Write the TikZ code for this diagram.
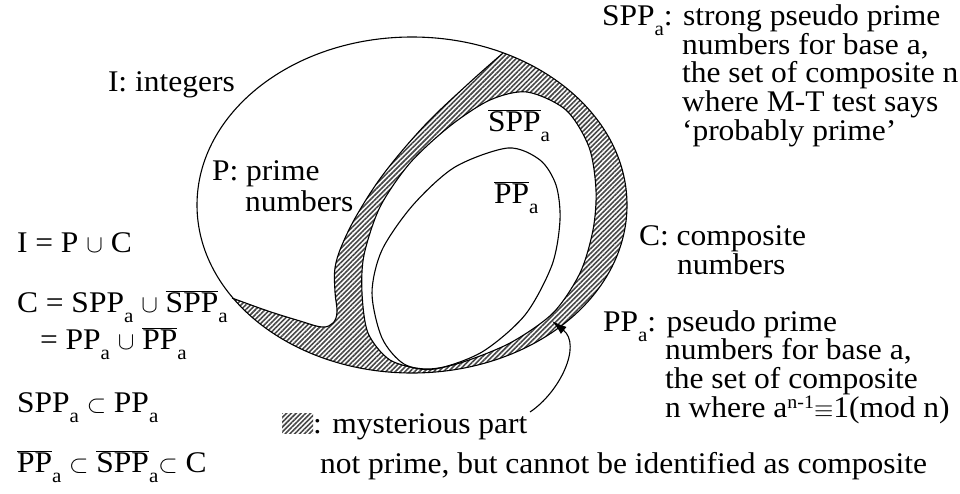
\documentclass[tikz,border=0pt]{standalone}
\usepackage{fontspec}
\setmainfont{Liberation Serif}[FakeStretch=1.05]
\usetikzlibrary{arrows.meta,patterns.meta}
\newcommand\sA{\raisebox{-10pt}{\fontsize{20}{20}\selectfont a}}
\newcommand\supn{\raisebox{9pt}{\fontsize{19}{19}\selectfont n-1}}
\newcommand\ob[1]{$\overline{\hbox{#1}}$}
\begin{document}
\begin{tikzpicture}[x=1pt,y=-1pt]
\tikzset{
  txt/.style={anchor=base west, inner sep=0pt, outer sep=0pt, font=\fontsize{30}{30}\selectfont},
  edge/.style={line width=1.1pt, black},
  hatch/.style={pattern={Lines[angle=45,distance=3.4pt,line width=1.6pt]}, pattern color=black!72},
}
\useasboundingbox (0,0) rectangle (960,493);
\fill[white] (0,0) rectangle (960,493);

% mysterious band
\path[hatch, even odd rule]
  plot[domain=-65:146.4, samples=90, variable=\t] ({412+215*cos(\t)},{205+168*sin(\t)})
  -- plot[smooth, tension=0.6] coordinates {(232,298) (268,311) (300,321) (322,327) (333,323) (337,312) (335,292) (335,268) (342,245) (358,213) (385,172) (425,125) (468,84) (503,53)}
  -- cycle
  plot[smooth cycle] coordinates {(527,92) (566,110) (589,147) (596,190) (593,230) (580,273) (553,313) (510,343) (460,363) (425,369) (390,360) (368,333) (362,293) (364,255) (380,207) (410,163) (450,126) (490,100)};

% outlines
\draw[edge] (412,205) ellipse [x radius=215, y radius=168];
\draw[edge] plot[smooth, tension=0.6] coordinates {(232,298) (268,311) (300,321) (322,327) (333,323) (337,312) (335,292) (335,268) (342,245) (358,213) (385,172) (425,125) (468,84) (503,53)};
\draw[edge] plot[smooth cycle] coordinates {(527,92) (566,110) (589,147) (596,190) (593,230) (580,273) (553,313) (510,343) (460,363) (425,369) (390,360) (368,333) (362,293) (364,255) (380,207) (410,163) (450,126) (490,100)};
\draw[edge] plot[smooth cycle] coordinates {(508,148) (540,160) (556,185) (560,220) (552,265) (525,315) (482,352) (435,369) (404,364) (382,338) (372,293) (382,250) (413,205) (455,167)};

% labels in diagram
\node[txt] (iint) at (108,91) {I: integers};
\node[txt] (pp1) at (212,180) {P: prime};
\node[txt] (pp2) at (245,211) {numbers};
\node[txt] (sppbar) at (488,131) {\ob{SPP}\sA};
\node[txt] (ppbar) at (494,203) {\ob{PP}\sA};

% right texts
\node[txt] (s1) at (602,25) {SPP\sA: strong pseudo prime};
\node[txt] (s2) at (682,54) {numbers for base a,};
\node[txt] (s3) at (682,82) {the set of composite n};
\node[txt] (s4) at (682,111) {where M-T test says};
\node[txt] (s5) at (682,140) {`probably prime'};
\node[txt] (c1) at (639,245) {C: composite};
\node[txt] (c2) at (677,274) {numbers};
\node[txt] (p1) at (603,331) {PP\sA: pseudo prime};
\node[txt] (p2) at (665,359.5) {numbers for base a,};
\node[txt] (p3) at (665,388) {the set of composite};
\node[txt] (p4) at (665,417) {n where a\supn$\equiv$1(mod n)};

% left equations
\node[txt] (e1) at (17,252) {I = P $\cup$ C};
\node[txt] (e2) at (17,312) {C = SPP\sA{} $\cup$ \ob{SPP}\sA};
\node[txt] (e3) at (40,349) {= PP\sA{} $\cup$ \ob{PP}\sA};
\node[txt] (e4) at (17,412) {SPP\sA{} $\subset$ PP\sA};
\node[txt] (e5) at (17,472) {\ob{PP}\sA{} $\subset$ \ob{SPP}\sA$\subset$ C};

% legend
\node[hatch, minimum width=31pt, minimum height=20pt, inner sep=0pt, anchor=north west] (legbox) at (282,413) {};
\node[txt] (leg1) at (313,433) {: mysterious part};
\node[txt] (leg2) at (320,473) {not prime, but cannot be identified as composite};

% arrow
\coordinate (tail) at (530,412);
\coordinate (tip) at (552,321);
\draw[edge, -{Latex[length=15pt,width=9pt]}] (tail) .. controls (560,392) and (582,345) .. (tip);
\end{tikzpicture}
\end{document}
